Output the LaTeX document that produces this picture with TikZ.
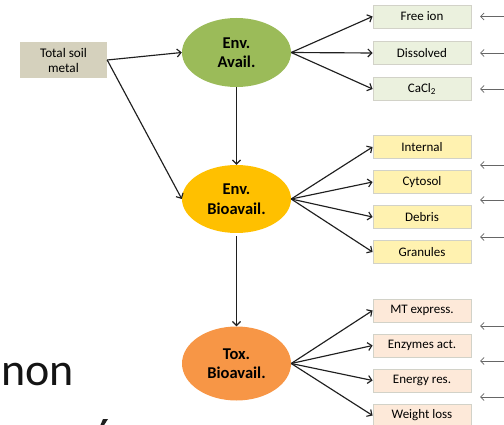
\documentclass[tikz,border=0pt]{standalone}
\usepackage{fontspec}
\setmainfont{Carlito}
\usetikzlibrary{shapes.geometric,arrows.meta}
\definecolor{gEll}{HTML}{9BBB59}
\definecolor{yEll}{HTML}{FFC000}
\definecolor{oEll}{HTML}{F79646}
\definecolor{gBox}{HTML}{EBF1DE}
\definecolor{yBox}{HTML}{FFF2B0}
\definecolor{oBox}{HTML}{FDE9D9}
\definecolor{tBox}{HTML}{D5D1BD}
\definecolor{bEdge}{HTML}{D2D2C8}
\begin{document}
\begin{tikzpicture}[x=1pt,y=-1pt,
  srcbox/.style={fill=tBox,minimum width=87pt,minimum height=36pt,inner sep=0pt,align=center,font=\fontsize{13.2}{15}\selectfont},
  ell/.style={ellipse,minimum width=109pt,minimum height=69pt,inner sep=0pt,align=center,font=\bfseries\fontsize{16.5}{19.5}\selectfont},
  rbox/.style={draw=bEdge,line width=0.8pt,minimum width=98pt,minimum height=23pt,inner sep=0pt,font=\fontsize{13}{15}\selectfont},
  conn/.style={draw=black!88,line width=1.15pt,-{Straight Barb[length=4pt,width=8pt]}},
  side/.style={draw=black!60,line width=0.8pt,-{Straight Barb[length=3.5pt,width=7pt]}}
]
\useasboundingbox (0,0) rectangle (504,425);

\node[srcbox] (tsm) at (63.5,60) {Total soil\\metal};
\node[ell,fill=gEll] (ea) at (236.5,52.5) {Env.\\Avail.};
\node[ell,fill=yEll,minimum height=68pt] (eb) at (236.5,199) {Env.\\Bioavail.};
\node[ell,fill=oEll,minimum height=74pt] (tb) at (236.5,363.5) {Tox.\\Bioavail.};

\draw[conn] (tsm.east) -- (ea.west);
\draw[conn] (tsm.east) -- (eb.west);
\draw[conn] (ea.south) -- (eb.north);
\draw[conn,shorten <=3pt] (eb.south) -- (tb.north);

% green boxes
\node[rbox,fill=gBox] (g1) at (422,16.5) {Free ion};
\node[rbox,fill=gBox] (g2) at (422,53) {Dissolved};
\node[rbox,fill=gBox] (g3) at (422,89) {CaCl\textsubscript{2}};
\foreach \n in {g1,g2,g3} \draw[conn] (ea.east) -- (\n.west);

% yellow boxes
\node[rbox,fill=yBox] (y1) at (422,147) {Internal};
\node[rbox,fill=yBox] (y2) at (422,182) {Cytosol};
\node[rbox,fill=yBox] (y3) at (422,217) {Debris};
\node[rbox,fill=yBox] (y4) at (422,252) {Granules};
\foreach \n in {y1,y2,y3,y4} \draw[conn] (eb.east) -- (\n.west);

% orange boxes
\node[rbox,fill=oBox] (o1) at (422,310.5) {MT express.};
\node[rbox,fill=oBox] (o2) at (422,345.5) {Enzymes act.};
\node[rbox,fill=oBox] (o3) at (422,380.5) {Energy res.};
\node[rbox,fill=oBox] (o4) at (422,415.5) {Weight loss};
\foreach \n in {o1,o2,o3,o4} \draw[conn] (tb.east) -- (\n.west);

% side arrows
\foreach \y [count=\i] in {16.5,53,89,165,200,237,326,361,397} {
  \coordinate (s\i) at (506,\y);
  \coordinate (e\i) at (480,\y);
  \draw[side] (s\i) -- (e\i);
}

% background text fragments
\node[anchor=base west,inner sep=0pt,font=\fontsize{46}{50}\selectfont,text=black!92] (non) at (1,385) {non};
\fill[black!88] (100,426) -- (103,419) -- (108,419) -- (103.5,426) -- cycle;
\end{tikzpicture}
\end{document}
